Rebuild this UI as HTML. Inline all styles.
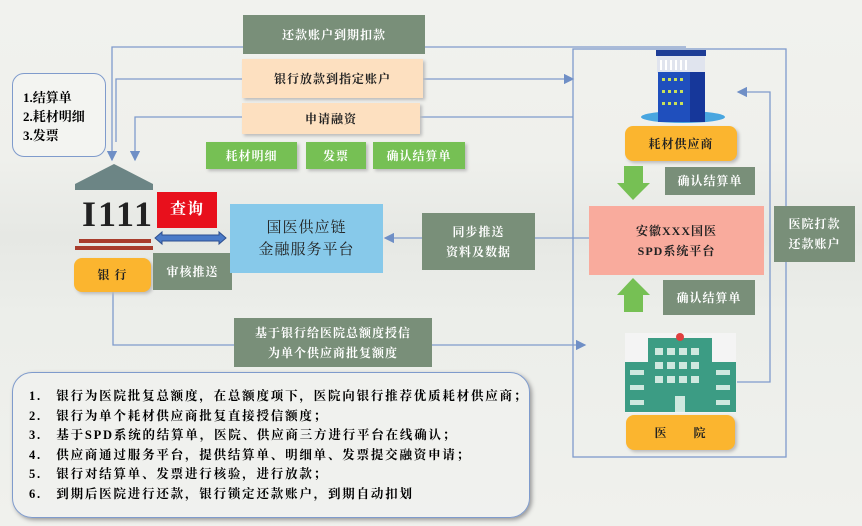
<!DOCTYPE html>
<html><head><meta charset="utf-8"><style>
body{margin:0;width:862px;height:526px;overflow:hidden;background:linear-gradient(#f1f2ee 0%,#eff0ec 30%,#e6e8e4 45%,#eceeea 60%,#f0f1ed 100%);position:relative;font-family:"Liberation Serif","Noto Serif CJK SC",serif;}
div.b{position:absolute;display:flex;align-items:center;justify-content:center;text-align:center;font-weight:bold;font-size:12px;line-height:20px;box-sizing:border-box;letter-spacing:1px;}
.g{background:#798f79;color:#fff;}
.o{background:#fde0c0;color:#222;box-shadow:2px 2px 3px #bbb;}
.lg{background:#76c054;color:#fff;box-shadow:2px 2px 3px #bbb;}
.y{background:#fbb52f;color:#222;border-radius:8px;box-shadow:2px 2px 3px #bbb;}
svg{position:absolute;left:0;top:0;}
</style></head><body>
<svg width="862" height="526">
<defs><marker id="a" markerWidth="8" markerHeight="8" refX="7" refY="4" orient="auto"><path d="M0,0L8,4L0,8z" fill="#6f8fc6"/></marker></defs>
<g stroke="#7f9bcc" stroke-width="1.3" fill="none">
<path d="M686,47H112V160" marker-end="url(#a)"/>
<path d="M116,142V79H573" marker-end="url(#a)"/>
<path d="M573,117H135V160" marker-end="url(#a)"/>
<rect x="573" y="49" width="213" height="408"/>
<path d="M737,382H770V92H738" marker-end="url(#a)"/>
<path d="M589,238H385" marker-end="url(#a)"/>
<path d="M113,292V345H585" marker-end="url(#a)"/>
</g>
<polygon points="114,164 153,184 153,190 75,190 75,184" fill="#6c8585"/>
<rect x="79" y="239" width="72" height="4" fill="#a83c2c"/>
<rect x="75" y="246" width="78" height="4" fill="#a83c2c"/>
<path d="M155,238l7,-6v3h57v-3l7,6l-7,6v-3h-57v3z" fill="#4a7ac8" stroke="#2d4f8f"/>
<polygon points="624,166 643,166 643,183 650,183 633,200 617,183 624,183" fill="#76c054"/>
<polygon points="633,278 650,295 643,295 643,312 624,312 624,295 617,295" fill="#76c054"/>
<!-- supplier building -->
<ellipse cx="683" cy="117" rx="42" ry="6" fill="#49a6e0"/>
<rect x="657" y="55" width="48" height="18" fill="#e0e4ee"/>
<g fill="#fff"><rect x="660" y="60" width="2" height="10"/><rect x="665" y="60" width="2" height="10"/><rect x="670" y="60" width="2" height="10"/><rect x="675" y="60" width="2" height="10"/><rect x="680" y="60" width="2" height="10"/><rect x="685" y="60" width="2" height="10"/></g>
<rect x="656" y="50" width="50" height="6" fill="#1e3d96"/>
<rect x="658" y="72" width="47" height="50" fill="#1f4fbd"/>
<rect x="690" y="72" width="15" height="50" fill="#16379a"/>
<g fill="#c8e05a"><rect x="662" y="78" width="3" height="3"/><rect x="668" y="78" width="3" height="3"/><rect x="674" y="78" width="3" height="3"/><rect x="680" y="78" width="3" height="3"/><rect x="662" y="90" width="3" height="3"/><rect x="668" y="90" width="3" height="3"/><rect x="674" y="90" width="3" height="3"/><rect x="680" y="90" width="3" height="3"/><rect x="662" y="102" width="3" height="3"/><rect x="668" y="102" width="3" height="3"/><rect x="674" y="102" width="3" height="3"/><rect x="680" y="102" width="3" height="3"/></g>
<!-- hospital -->
<rect x="625" y="333" width="111" height="80" fill="#f4f4f4"/>
<rect x="625" y="362" width="111" height="50" fill="#3c9c84"/>
<rect x="648" y="338" width="64" height="74" fill="#3c9c84"/>
<circle cx="680" cy="337" r="4" fill="#e04040"/>
<g fill="#cfe8df"><rect x="655" y="348" width="8" height="7"/><rect x="667" y="348" width="8" height="7"/><rect x="679" y="348" width="8" height="7"/><rect x="691" y="348" width="8" height="7"/><rect x="655" y="362" width="8" height="7"/><rect x="667" y="362" width="8" height="7"/><rect x="679" y="362" width="8" height="7"/><rect x="691" y="362" width="8" height="7"/><rect x="655" y="376" width="8" height="7"/><rect x="667" y="376" width="8" height="7"/><rect x="679" y="376" width="8" height="7"/><rect x="691" y="376" width="8" height="7"/><rect x="630" y="370" width="14" height="5"/><rect x="630" y="385" width="14" height="5"/><rect x="630" y="400" width="14" height="5"/><rect x="716" y="370" width="14" height="5"/><rect x="716" y="385" width="14" height="5"/><rect x="716" y="400" width="14" height="5"/><rect x="675" y="396" width="10" height="16"/></g>
</svg>
<div style="position:absolute;left:12px;top:73px;width:94px;height:84px;border:1.5px solid #7f9bcc;border-radius:12px;box-sizing:border-box;background:#f3f4f1;font-weight:bold;font-size:13px;line-height:19px;padding:14px 0 0 10px;">1.结算单<br>2.耗材明细<br>3.发票</div>
<div class="b g" style="left:243px;top:15px;width:182px;height:39px;">还款账户到期扣款</div>
<div class="b o" style="left:242px;top:59px;width:181px;height:39px;">银行放款到指定账户</div>
<div class="b o" style="left:242px;top:103px;width:178px;height:31px;">申请融资</div>
<div class="b lg" style="left:206px;top:142px;width:91px;height:27px;">耗材明细</div>
<div class="b lg" style="left:306px;top:142px;width:60px;height:27px;">发票</div>
<div class="b lg" style="left:373px;top:142px;width:92px;height:27px;">确认结算单</div>
<div style="position:absolute;left:82px;top:193px;font-size:36px;font-weight:bold;color:#222;letter-spacing:2px;">I111</div>
<div class="b" style="left:157px;top:192px;width:60px;height:36px;background:#e8101c;color:#fff;font-size:16px;">查询</div>
<div class="b y" style="left:74px;top:258px;width:77px;height:34px;">银 行</div>
<div class="b g" style="left:153px;top:253px;width:79px;height:37px;">审核推送</div>
<div class="b" style="left:230px;top:204px;width:153px;height:69px;background:#87c9ea;color:#222;font-size:15px;line-height:22px;font-weight:normal;">国医供应链<br>金融服务平台</div>
<div class="b g" style="left:422px;top:213px;width:113px;height:57px;">同步推送<br>资料及数据</div>
<div class="b" style="left:589px;top:206px;width:175px;height:69px;background:#f9ab9d;color:#222;">安徽XXX国医<br>SPD系统平台</div>
<div class="b y" style="left:625px;top:126px;width:112px;height:35px;">耗材供应商</div>
<div class="b g" style="left:665px;top:167px;width:90px;height:28px;">确认结算单</div>
<div class="b g" style="left:663px;top:280px;width:92px;height:35px;">确认结算单</div>
<div class="b g" style="left:774px;top:206px;width:81px;height:56px;">医院打款<br>还款账户</div>
<div class="b y" style="left:626px;top:415px;width:109px;height:35px;">医　　院</div>
<div class="b g" style="left:234px;top:318px;width:198px;height:49px;">基于银行给医院总额度授信<br>为单个供应商批复额度</div>
<div style="position:absolute;left:12px;top:372px;width:518px;height:146px;border:1.5px solid #7f9bcc;border-radius:20px;box-sizing:border-box;background:rgba(240,241,238,.85);box-shadow:2px 2px 4px #999;font-weight:bold;font-size:12.5px;line-height:19.6px;padding:14px 0 0 16px;white-space:nowrap;letter-spacing:1.8px;">
1.　银行为医院批复总额度，在总额度项下，医院向银行推荐优质耗材供应商；<br>
2.　银行为单个耗材供应商批复直接授信额度；<br>
3.　基于SPD系统的结算单，医院、供应商三方进行平台在线确认；<br>
4.　供应商通过服务平台，提供结算单、明细单、发票提交融资申请；<br>
5.　银行对结算单、发票进行核验，进行放款；<br>
6.　到期后医院进行还款，银行锁定还款账户，到期自动扣划</div>
</body></html>
